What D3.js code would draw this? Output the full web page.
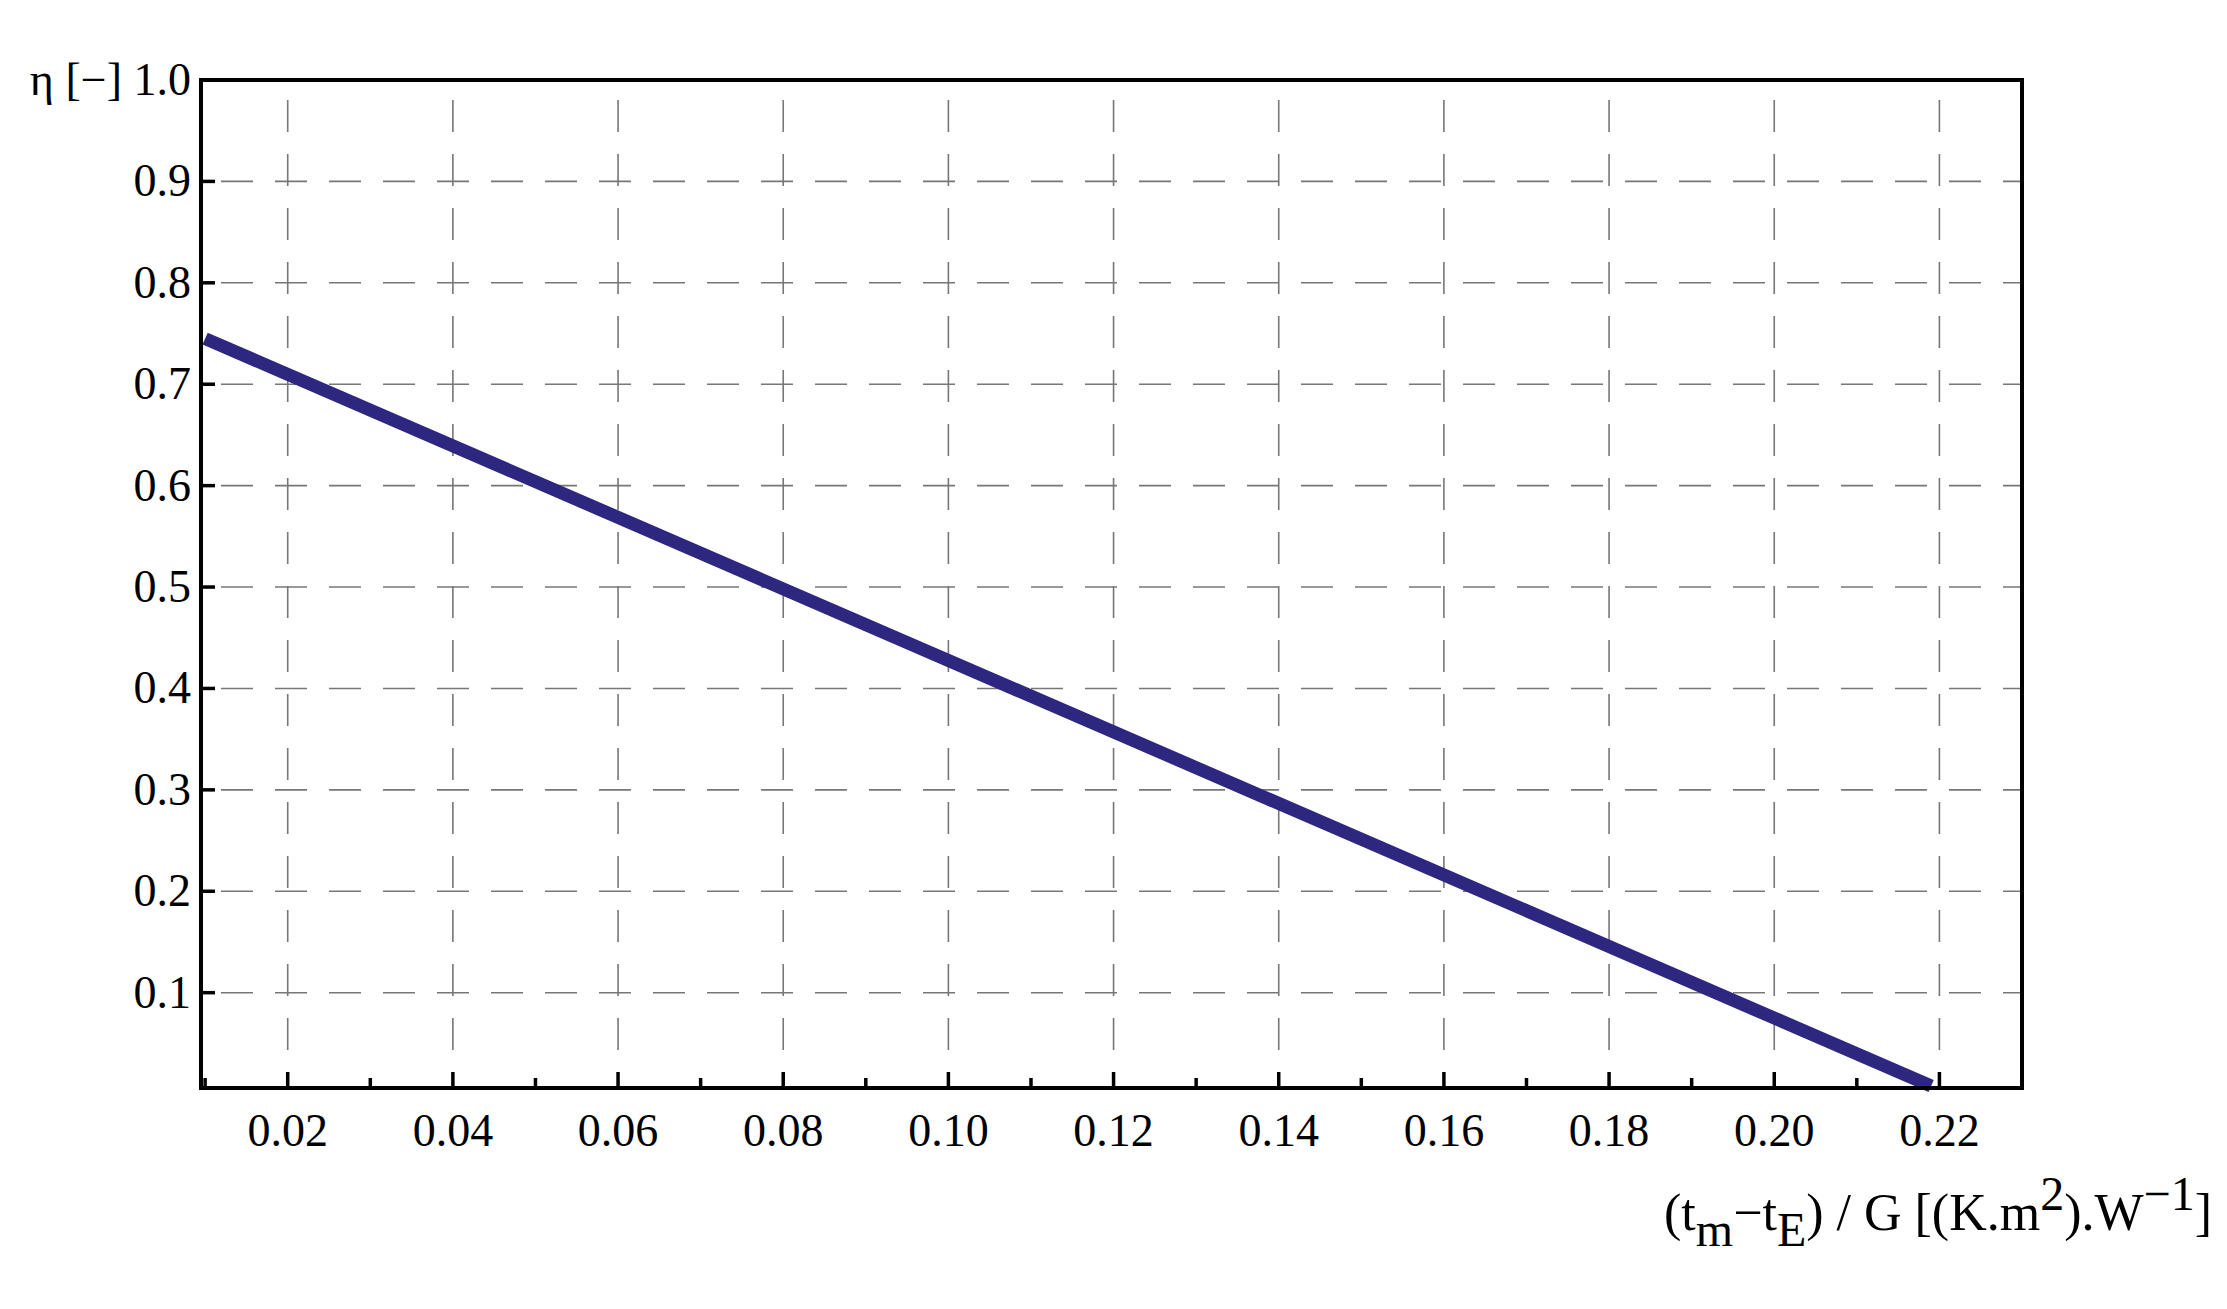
<!DOCTYPE html><html><head><meta charset="utf-8">
<script src="https://cdn.jsdelivr.net/npm/d3@7"></script>
<style>body{margin:0;background:#fff}text{font-family:"Liberation Serif","DejaVu Serif",serif}</style></head><body>
<svg id="c" width="2227" height="1309"></svg>
<script>
const xVals=[0.01,0.219];
const yVals=[0.745,0.008];
const xTicks=[0.02,0.04,0.06,0.08,0.10,0.12,0.14,0.16,0.18,0.20,0.22];
const xMinor=[0.01,0.03,0.05,0.07,0.09,0.11,0.13,0.15,0.17,0.19,0.21];
const yTicks=[0.1,0.2,0.3,0.4,0.5,0.6,0.7,0.8,0.9,1.0];
const L=201,R=2022,T=80,B=1088;
const svg=d3.select("#c");
const x=d3.scaleLinear().domain([0.0095,0.23]).range([L,R]);
const y=d3.scaleLinear().domain([0.006,1.0]).range([B,T]);
const g=svg.append("g");
g.selectAll(".gx").data(xTicks).join("line").attr("x1",d=>x(d)).attr("x2",d=>x(d)).attr("y1",T).attr("y2",B)
 .attr("stroke","#777").attr("stroke-width",1.6).attr("stroke-dasharray","32,22").attr("stroke-dashoffset",-20);
g.selectAll(".gy").data(yTicks.filter(d=>d<1)).join("line").attr("x1",L).attr("x2",R).attr("y1",d=>y(d)).attr("y2",d=>y(d))
 .attr("stroke","#777").attr("stroke-width",1.6).attr("stroke-dasharray","32,22").attr("stroke-dashoffset",-20);
g.selectAll(".tx").data(xTicks).join("line").attr("x1",d=>x(d)).attr("x2",d=>x(d)).attr("y1",B).attr("y2",B-16).attr("stroke","#000").attr("stroke-width",3.5);
g.selectAll(".tm").data(xMinor).join("line").attr("x1",d=>x(d)).attr("x2",d=>x(d)).attr("y1",B).attr("y2",B-10).attr("stroke","#000").attr("stroke-width",3.5);
g.selectAll(".ty").data(yTicks).join("line").attr("x1",L).attr("x2",L+14).attr("y1",d=>y(d)).attr("y2",d=>y(d)).attr("stroke","#000").attr("stroke-width",3.5);
g.selectAll(".lx").data(xTicks).join("text").attr("x",d=>x(d)).attr("y",B+58).attr("text-anchor","middle").attr("font-size",46).text(d=>d.toFixed(2));
g.selectAll(".ly").data(yTicks).join("text").attr("x",L-10).attr("y",d=>y(d)+15).attr("text-anchor","end").attr("font-size",46).text(d=>d.toFixed(1));
const pts=xVals.map((v,i)=>[v,yVals[i]]);
g.append("path").attr("d",d3.line().x(d=>x(d[0])).y(d=>y(d[1]))(pts)).attr("fill","none").attr("stroke","#2e2780").attr("stroke-width",13);
g.append("rect").attr("x",L).attr("y",T).attr("width",R-L).attr("height",B-T).attr("fill","none").attr("stroke","#000").attr("stroke-width",4);
svg.append("text").attr("x",L-79).attr("y",T+15).attr("text-anchor","end").attr("font-size",46).text("η [−]");
const t=svg.append("text").attr("x",2212).attr("y",1230).attr("text-anchor","end").attr("font-size",52);
t.append("tspan").text("(t");
t.append("tspan").attr("dy",16).attr("font-size",48).text("m");
t.append("tspan").attr("dy",-16).text("−t");
t.append("tspan").attr("dy",16).attr("font-size",48).text("E");
t.append("tspan").attr("dy",-16).text(") / G [(K.m");
t.append("tspan").attr("dy",-20).attr("font-size",48).text("2");
t.append("tspan").attr("dy",20).text(").W");
t.append("tspan").attr("dy",-20).attr("font-size",48).text("−1");
t.append("tspan").attr("dy",20).text("]");
</script></body></html>
